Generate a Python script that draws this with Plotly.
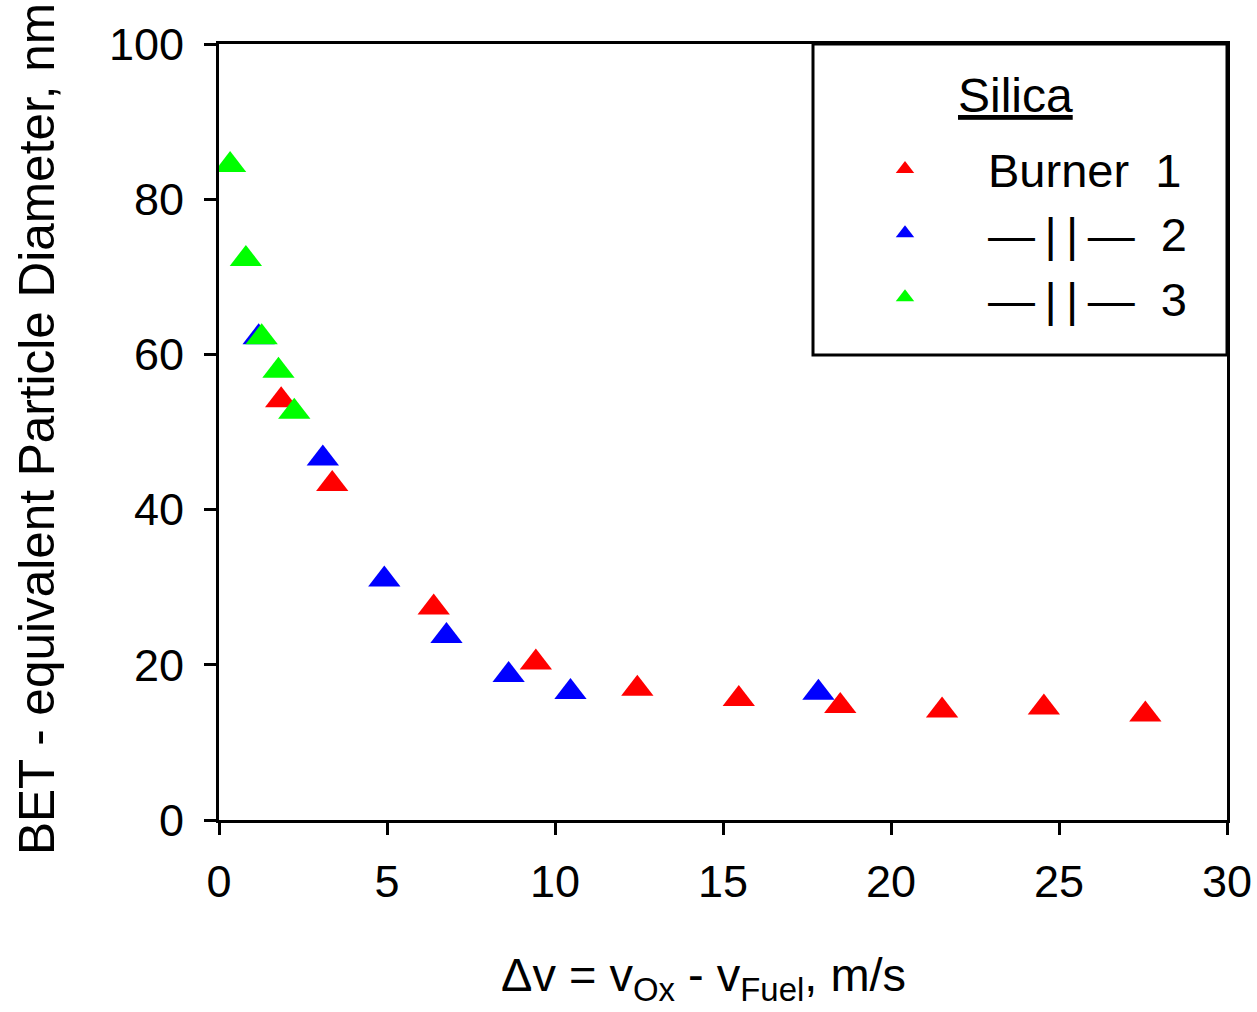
import plotly.graph_objects as go

# Burner 1 (red)
b1_x = [1.85, 3.37, 6.39, 9.43, 12.45, 15.47, 18.49, 21.52, 24.55, 27.57]
b1_y = [54.1, 43.3, 27.4, 20.3, 16.9, 15.6, 14.7, 14.1, 14.5, 13.6]
# Burner 2 (blue)
b2_x = [1.18, 3.09, 4.92, 6.77, 8.62, 10.46, 17.84]
b2_y = [62.2, 46.6, 31.0, 23.7, 18.7, 16.5, 16.4]
# Burner 3 (green)
b3_x = [0.33, 0.80, 1.27, 1.77, 2.24]
b3_y = [84.4, 72.3, 62.2, 57.9, 52.6]

names = ["Burner\u00a0\u00a01",
         "\u2014\u2009|\u2009|\u2009\u2014\u00a0\u00a02",
         "\u2014\u2009|\u2009|\u2009\u2014\u00a0\u00a03"]
colors = ["#FF0000", "#0000FF", "#00FF00"]

x_ticks = [0, 5, 10, 15, 20, 25, 30]
y_ticks = [0, 20, 40, 60, 80, 100]

FONT = "Arial, Liberation Sans, sans-serif"
MS = 28

fig = go.Figure()
# draw order: blue, red, green (green on top)
fig.add_trace(go.Scatter(x=b2_x, y=b2_y, mode="markers", name=names[1], legendrank=2,
                         marker=dict(symbol="triangle-up", size=MS, color=colors[1], line=dict(width=0))))
fig.add_trace(go.Scatter(x=b1_x, y=b1_y, mode="markers", name=names[0], legendrank=1,
                         marker=dict(symbol="triangle-up", size=MS, color=colors[0], line=dict(width=0))))
fig.add_trace(go.Scatter(x=b3_x, y=b3_y, mode="markers", name=names[2], legendrank=3,
                         marker=dict(symbol="triangle-up", size=MS, color=colors[2], line=dict(width=0))))

L, R, T, B = 219, 30, 44, 192
W, H = 1257, 1012
pw, ph = W - L - R, H - T - B

def px_x(p):
    return (p - L) / pw

def px_y(p):
    return (H - B - p) / ph

fig.update_layout(
    width=W, height=H,
    margin=dict(l=L, r=R, t=T, b=B, autoexpand=False),
    paper_bgcolor="white", plot_bgcolor="white",
    font=dict(family=FONT, color="black", size=45),
    showlegend=True,
    legend=dict(
        font=dict(size=47),
        x=px_x(822), xanchor="left",
        y=px_y(132), yanchor="top",
        bgcolor="rgba(0,0,0,0)", borderwidth=0,
        itemsizing="trace", itemwidth=156,
    ),
    xaxis=dict(
        range=[0, 30], tickvals=x_ticks, ticktext=[str(v) for v in x_ticks],
        showgrid=False, zeroline=False,
        showline=True, linecolor="black", linewidth=3, mirror=True,
        ticks="outside", ticklen=12, tickwidth=3, tickcolor="black",
        tickfont=dict(size=45), ticklabelstandoff=8,
    ),
    yaxis=dict(
        range=[0, 100], tickvals=y_ticks, ticktext=[str(v) for v in y_ticks],
        showgrid=False, zeroline=False,
        showline=True, linecolor="black", linewidth=3, mirror=True,
        ticks="outside", ticklen=12, tickwidth=3, tickcolor="black",
        tickfont=dict(size=45), ticklabelstandoff=11,
    ),
    shapes=[dict(type="rect", xref="paper", yref="paper",
                 x0=px_x(813), x1=1.0, y0=px_y(355), y1=1.0,
                 line=dict(color="black", width=3), fillcolor="rgba(0,0,0,0)")],
    annotations=[
        dict(text="<u>Silica</u>", xref="paper", yref="paper",
             x=px_x(1015), y=px_y(95), xanchor="center", yanchor="middle",
             showarrow=False, font=dict(size=48)),
        dict(text="\u0394v = v<sub>Ox</sub> - v<sub>Fuel</sub>, m/s",
             xref="paper", yref="paper", x=px_x(703), y=px_y(978),
             xanchor="center", yanchor="middle", showarrow=False,
             font=dict(size=47)),
        dict(text="BET - equivalent Particle Diameter, nm",
             xref="paper", yref="paper", x=px_x(36), y=px_y(429),
             xanchor="center", yanchor="middle", showarrow=False, textangle=-90,
             font=dict(size=49.5)),
    ],
)

fig.write_html("out.html")
